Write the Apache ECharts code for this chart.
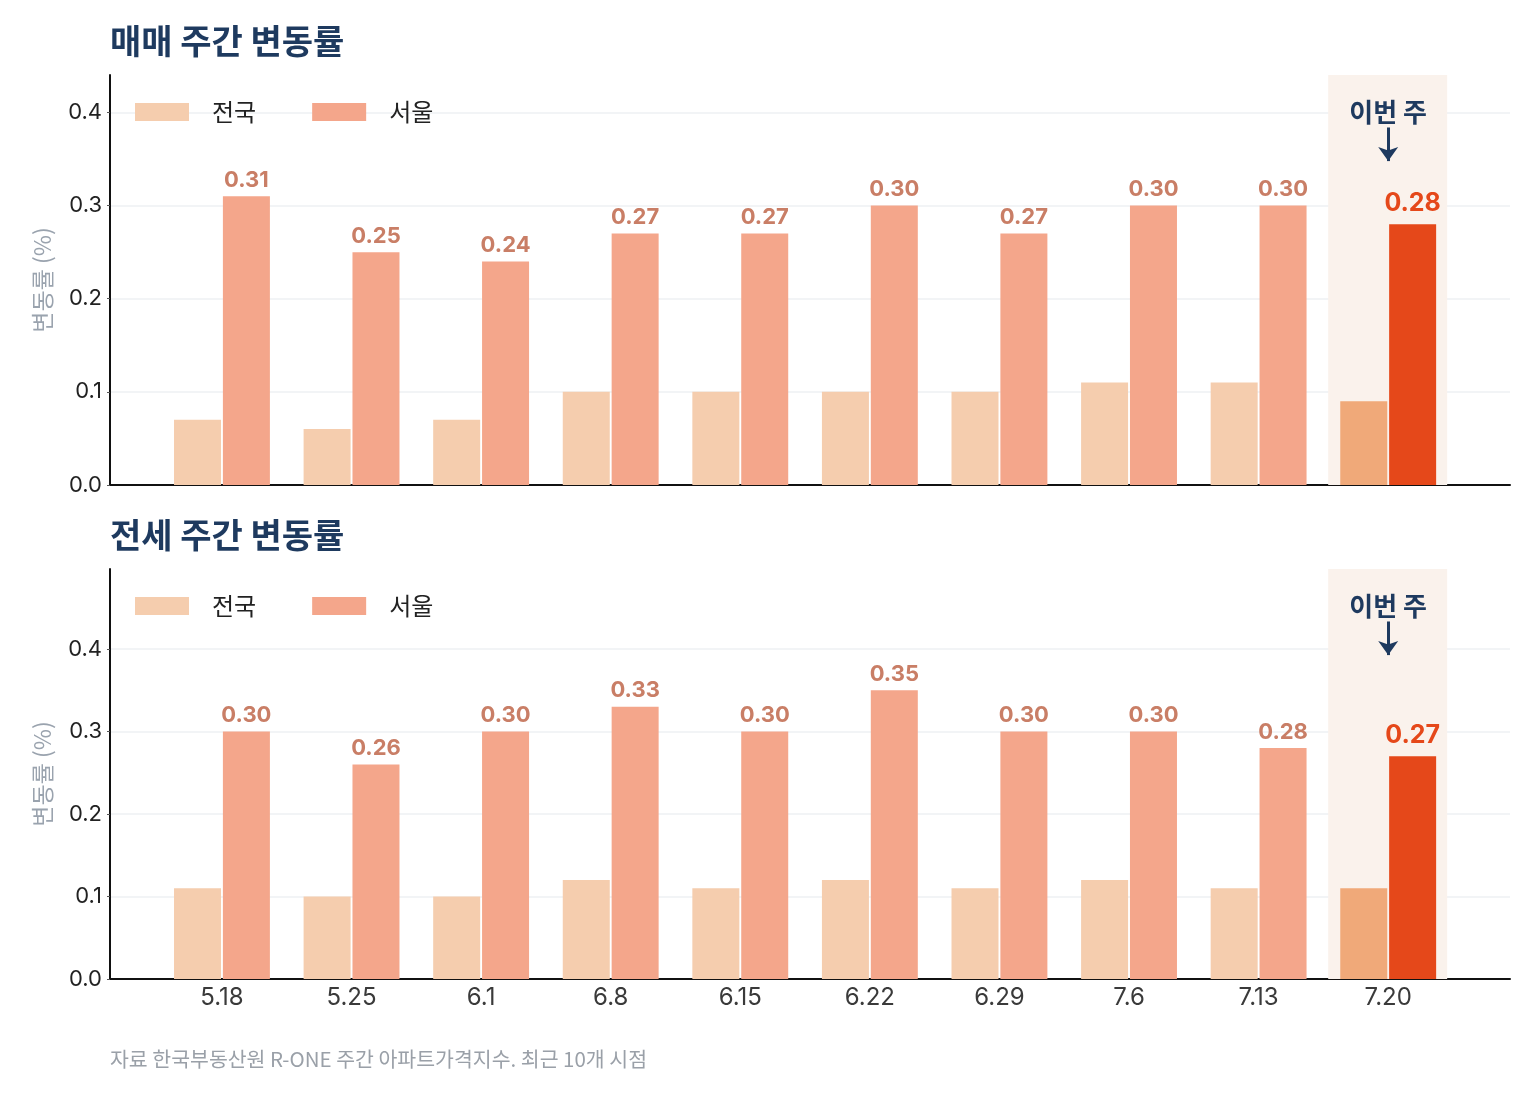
<!DOCTYPE html>
<html><head><meta charset="utf-8">
<script src="https://cdn.jsdelivr.net/npm/echarts@6/dist/echarts.min.js"></script>
<style>html,body{margin:0;padding:0;background:#fff}#c{width:1540px;height:1104px}</style>
</head><body><div id="c"></div>
<script>
const categories = ['5.18','5.25','6.1','6.8','6.15','6.22','6.29','7.6','7.13','7.20'];
const saleNation = [0.07,0.06,0.07,0.10,0.10,0.10,0.10,0.11,0.11,0.09];
const saleSeoul  = [0.31,0.25,0.24,0.27,0.27,0.30,0.27,0.30,0.30,0.28];
const rentNation = [0.11,0.10,0.10,0.12,0.11,0.12,0.11,0.12,0.11,0.11];
const rentSeoul  = [0.30,0.26,0.30,0.33,0.30,0.35,0.30,0.30,0.28,0.27];
const yTicks = [0,0.1,0.2,0.3,0.4];
const titles = ['매매 주간 변동률','전세 주간 변동률'];
const seriesNames = ['전국','서울'];
const hiIndex = categories.length - 1;

const FONT = "Inter, 'Noto Sans CJK KR', sans-serif";
const KFONT = "'Noto Sans CJK KR', Inter, sans-serif";
const NAVY = '#1E3A5F';
const C_N = '#F5CDAE', C_S = '#F4A68B', C_NH = '#F0A979', C_SH = '#E5481A';

const panels = [
  {nation: saleNation, seoul: saleSeoul, top: 75, bottom: 619},
  {nation: rentNation, seoul: rentSeoul, top: 569, bottom: 125}
];

const grids = [], xAxes = [], yAxes = [], series = [], legends = [], titleArr = [];
panels.forEach((p, gi) => {
  const ymax = Math.max(...p.seoul) * 1.42;
  grids.push({left: 110, right: 30, top: p.top, bottom: p.bottom});
  xAxes.push({
    type: 'value', gridIndex: gi, min: -0.864, max: 9.94,
    axisLine: {show: true, onZero: false, lineStyle: {color: '#111', width: 2}},
    axisTick: {show: false},
    splitLine: {show: false},
    axisLabel: {show: gi === 1, customValues: categories.map((c, i) => i),
      formatter: v => categories[Math.round(v)] ?? '',
      fontSize: 24, color: '#3a3a3a', fontFamily: FONT, margin: 7}
  });
  yAxes.push({
    type: 'value', gridIndex: gi, min: 0, max: ymax,
    name: '변동률 (%)', nameLocation: 'middle', nameRotate: 90, nameGap: 56,
    nameTextStyle: {fontSize: 23, color: '#9AA3AE', fontFamily: KFONT},
    axisLine: {show: true, onZero: false, lineStyle: {color: '#111', width: 2}},
    axisTick: {show: true, length: 3, customValues: yTicks, lineStyle: {color: '#555'}},
    axisLabel: {customValues: yTicks, formatter: v => v.toFixed(1), fontSize: 22, color: '#222', fontFamily: FONT, margin: 8},
    splitLine: {show: true, lineStyle: {color: '#EEF0F3', width: 1.5}}
  });
  titleArr.push({text: titles[gi], left: 105, top: p.top - 56,
    textStyle: {fontSize: 34, fontWeight: 'bold', color: NAVY, fontFamily: KFONT}});
  legends.push({
    data: seriesNames, left: 130, top: p.top + 20, itemWidth: 54, itemHeight: 18, itemGap: 56,
    icon: 'rect', textStyle: {fontSize: 24, color: '#222', fontFamily: KFONT, padding: [0,0,0,18]}
  });
  series.push({
    name: '전국', type: 'bar', xAxisIndex: gi, yAxisIndex: gi, barWidth: 47, barGap: '4%', z: 3,
    itemStyle: {color: C_N},
    data: p.nation.map((v, i) => ({value: [i, v], itemStyle: {color: i === hiIndex ? C_NH : C_N}}))
  });
  series.push({
    name: '서울', type: 'bar', xAxisIndex: gi, yAxisIndex: gi, barWidth: 47, barGap: '4%', z: 3,
    itemStyle: {color: C_S},
    label: {show: true, position: 'top', distance: 5, formatter: d => d.value[1].toFixed(2),
      fontSize: 22, fontWeight: 'bold', color: '#C97E66', fontFamily: FONT},
    data: p.seoul.map((v, i) => i === hiIndex ? ({value: [i, v], itemStyle: {color: C_SH},
        label: {color: C_SH, fontSize: 25, offset: [0, -3]}})
      : ({value: [i, v], itemStyle: {color: C_S}}))
  });
  series.push({
    name: 'marker' + gi, type: 'line', xAxisIndex: gi, yAxisIndex: gi, data: [], z: 1,
    markArea: {silent: true, itemStyle: {color: '#FAF2EC'},
      data: [[{xAxis: hiIndex - 0.463}, {xAxis: hiIndex + 0.455}]]},
    markLine: {silent: true, symbol: ['none', 'arrow'], symbolSize: [15, 14],
      lineStyle: {color: NAVY, width: 3, type: 'solid'}, label: {show: false},
      data: [[{coord: [hiIndex, ymax * 0.872]}, {coord: [hiIndex, ymax * 0.79]}]]},
    markPoint: {silent: true, symbol: 'rect', symbolSize: 1, itemStyle: {color: 'rgba(0,0,0,0)'},
      label: {show: true, position: 'inside', formatter: '이번 주', fontSize: 26, fontWeight: 'bold', color: NAVY, fontFamily: KFONT},
      data: [{coord: [hiIndex, ymax * 0.91]}]}
  });
});

const chart = echarts.init(document.getElementById('c'));
chart.setOption({
  backgroundColor: '#fff',
  animation: false,
  title: titleArr,
  grid: grids, xAxis: xAxes, yAxis: yAxes, legend: legends, series: series,
  graphic: [{type: 'text', left: 110, top: 1049,
    style: {text: '자료 한국부동산원 R-ONE 주간 아파트가격지수. 최근 10개 시점', fontSize: 20.5, fill: '#9AA0A8', fontFamily: KFONT}}]
});
</script></body></html>
